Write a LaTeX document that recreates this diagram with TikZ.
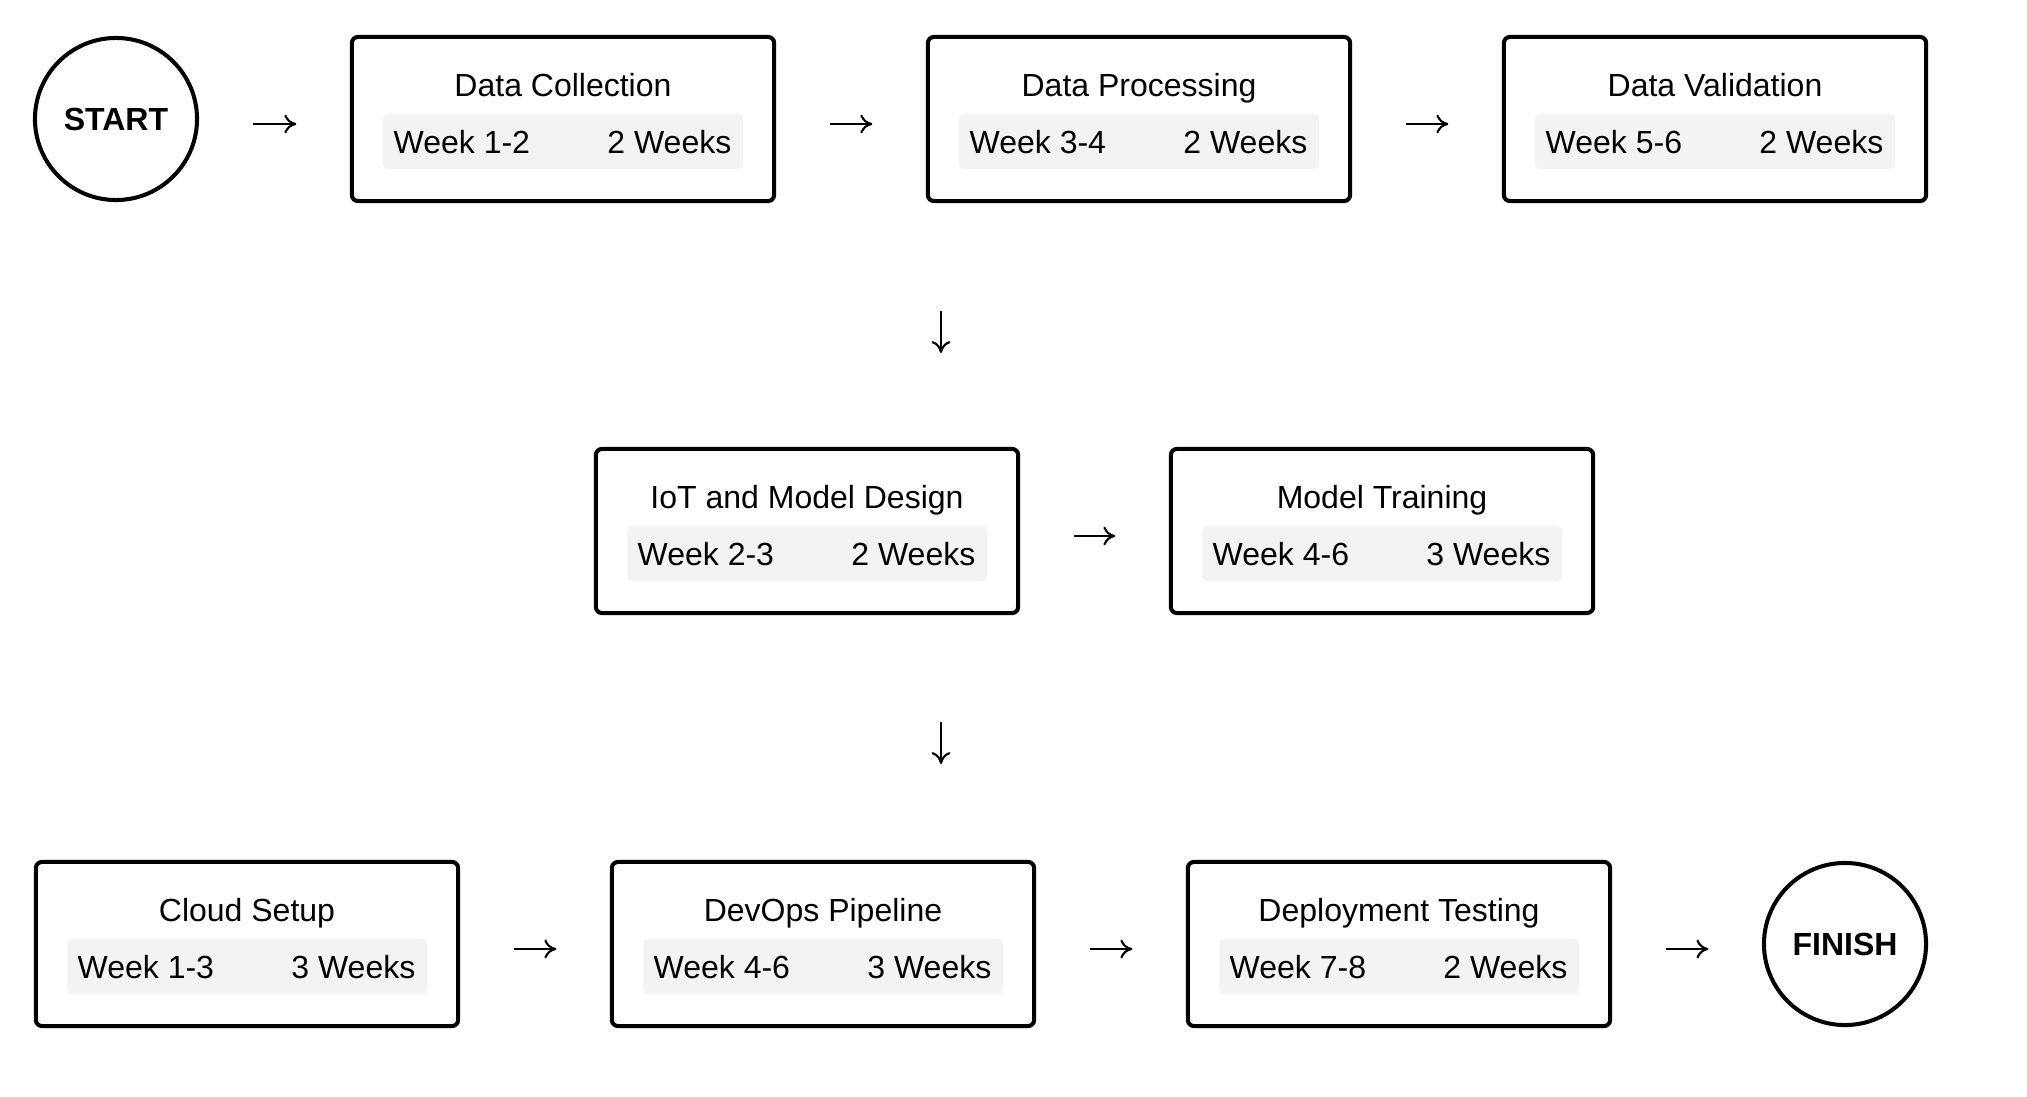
\documentclass[tikz,border=0pt]{standalone}
\usepackage{fontspec}
\setmainfont{Liberation Sans}
\usetikzlibrary{calc,arrows.meta}
\definecolor{bandgray}{HTML}{F3F3F3}

\tikzset{
  phase/.style={draw, line width=1.15pt, rounded corners=0.06cm, minimum width=4.22cm, minimum height=1.64cm},
  milestone/.style={draw, circle, line width=1.15pt, minimum size=1.62cm, font=\bfseries\fontsize{9.1pt}{11pt}\selectfont},
  band/.style={fill=bandgray, rounded corners=0.05cm, minimum width=3.6cm, minimum height=0.55cm, inner sep=0pt},
  lbl/.style={inner sep=0pt},
  arr/.style={line width=0.6pt, -{To[length=3.4pt,width=5.4pt]}, shorten <=0.535cm, shorten >=0.535cm,
    transform canvas={yshift=-0.05cm}},
}

\begin{document}
\begin{tikzpicture}[x=0.01cm, y=-0.01cm, font=\fontsize{9.1pt}{11pt}\selectfont]
  \useasboundingbox (0,0) rectangle (2027,1097);

  \node[milestone] (start) at (116,119) {START};
  \node[milestone] (finish) at (1845,944) {FINISH};

  % phases: name / x / y / title / weeks / duration
  \foreach \n/\x/\y/\ttl/\wk/\dur in {
      dc/563/119/Data Collection/Week 1-2/2 Weeks,
      dp/1139/119/Data Processing/Week 3-4/2 Weeks,
      dv/1715/119/Data Validation/Week 5-6/2 Weeks,
      iot/807/531/IoT and Model Design/Week 2-3/2 Weeks,
      mt/1382/531/Model Training/Week 4-6/3 Weeks,
      cs/247/944/Cloud Setup/Week 1-3/3 Weeks,
      dop/823/944/DevOps Pipeline/Week 4-6/3 Weeks,
      dt/1399/944/Deployment Testing/Week 7-8/2 Weeks}{
    \node[phase] (\n) at (\x,\y) {};
    \node[lbl, anchor=base] at ($(\n)+(0,-22.5)$) {\ttl};
    \node[band] at ($(\n)+(0,22.5)$) {};
    \node[lbl, anchor=base west] at ($(\n)+(-170,34.5)$) {\wk};
    \node[lbl, anchor=base east] at ($(\n)+(169,34.5)$) {\dur};
  }

  \draw[arr] (start) -- (dc);
  \draw[arr] (dc) -- (dp);
  \draw[arr] (dp) -- (dv);
  \draw[arr] (iot) -- (mt);
  \draw[arr] (cs) -- (dop);
  \draw[arr] (dop) -- (dt);
  \draw[arr] (dt) -- (finish);

  % row breaks
  \coordinate (down1) at (941,306);
  \coordinate (down2) at (941,717);
  \draw[arr, shorten <=0pt, shorten >=0pt, transform canvas={yshift=0cm}] (down1) -- ++(0,42);
  \draw[arr, shorten <=0pt, shorten >=0pt, transform canvas={yshift=0cm}] (down2) -- ++(0,42);
\end{tikzpicture}
\end{document}
